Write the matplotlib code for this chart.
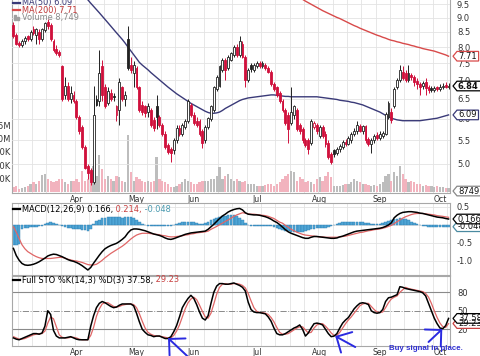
import numpy as np
import matplotlib
matplotlib.use('Agg')
import matplotlib.pyplot as plt
from matplotlib.patches import Polygon, Rectangle
from matplotlib.lines import Line2D
from matplotlib.transforms import IdentityTransform
from matplotlib.ticker import NullLocator, NullFormatter

nan = np.nan

# ---------------- data ----------------
months = ['Apr', 'May', 'Jun', 'Jul', 'Aug', 'Sep', 'Oct']
month_idx = [22, 43, 63, 85, 107, 128, 149]

open_ = [8.75, 8.40, 8.12, 8.05, 8.18, 8.35, 8.25, 8.60, 8.40, 8.50,
         8.25, 8.55, 8.85, 8.75, 8.20, 7.95, 7.85, 7.40, 6.60, 6.85,
         6.50, 6.60, 6.45, 6.05, 5.80, 5.35, 4.95, 4.88, 4.66, 6.50,
         6.45, 7.40, 6.80, 6.40, 6.65, 6.58, 6.10, 6.20, 6.80, 6.50,
         8.25, 7.45, 7.20, 7.35, 6.80, 6.35, 6.30, 6.15, 6.20, 5.97,
         6.30, 6.05, 5.85, 5.65, 5.40, 5.30, 5.28, 5.50, 5.78, 5.65,
         5.80, 5.95, 6.35, 6.10, 5.95, 5.95, 5.70, 5.50, 5.80, 6.00,
         6.20, 6.75, 6.85, 7.30, 7.60, 7.35, 7.60, 7.75, 8.00, 7.75,
         8.10, 7.70, 7.00, 7.45, 7.30, 7.40, 7.50, 7.40, 7.45, 7.35,
         7.25, 6.90, 6.80, 6.65, 6.45, 6.20, 6.10, 5.90, 6.10, 6.20,
         5.85, 5.75, 5.50, 5.50, 5.45, 5.80, 5.85, 5.60, 5.80, 5.65,
         5.45, 5.20, 5.28, 5.22, 5.30, 5.35, 5.47, 5.42, 5.50, 5.63,
         5.70, 5.83, 5.72, 5.82, 5.52, 5.42, 5.50, 5.62, 5.55, 5.60,
         5.65, 6.05, 6.15, 6.30, 6.80, 7.00, 7.25, 7.20, 7.00, 7.15,
         7.10, 6.98, 6.90, 6.85, 6.95, 6.80, 6.78, 6.72, 6.80, 6.75,
         6.80, 6.86, 6.80]
high = [8.85, 8.45, 8.20, 8.25, 8.35, 8.40, 8.55, 8.70, 8.65, 8.60,
        8.65, 8.85, 8.95, 8.80, 8.25, 8.05, 7.92, 7.45, 7.10, 6.95,
        6.85, 6.70, 6.50, 6.10, 5.85, 5.40, 5.00, 4.92, 6.85, 6.60,
        7.90, 7.60, 6.90, 6.80, 6.75, 6.65, 6.35, 7.05, 6.85, 6.70,
        8.70, 7.70, 7.55, 7.40, 6.85, 6.45, 6.35, 6.40, 6.25, 6.05,
        6.60, 6.10, 5.90, 5.70, 5.45, 5.35, 5.55, 5.85, 5.85, 5.90,
        6.00, 6.50, 6.40, 6.15, 6.05, 6.00, 5.75, 5.85, 6.05, 6.35,
        6.85, 7.15, 7.45, 7.65, 7.65, 7.75, 7.85, 8.05, 8.10, 8.35,
        8.20, 7.75, 7.35, 7.50, 7.50, 7.55, 7.55, 7.55, 7.50, 7.40,
        7.30, 6.95, 6.85, 6.70, 6.50, 6.25, 6.15, 6.80, 6.35, 6.25,
        5.90, 5.80, 5.55, 5.55, 6.00, 5.95, 5.90, 5.85, 5.85, 5.70,
        5.50, 5.25, 5.32, 5.35, 5.42, 5.50, 5.52, 5.60, 5.68, 5.78,
        5.95, 5.88, 5.85, 5.85, 5.58, 5.55, 5.65, 5.68, 5.70, 5.70,
        6.15, 6.45, 6.25, 6.80, 7.05, 7.45, 7.40, 7.30, 7.45, 7.20,
        7.15, 7.05, 6.95, 6.98, 7.05, 6.88, 6.85, 6.85, 6.85, 6.90,
        6.92, 6.95, 6.92]
low = [8.30, 8.05, 8.00, 8.00, 8.10, 8.20, 8.20, 8.40, 8.10, 8.10,
       8.20, 8.50, 8.60, 8.20, 7.85, 7.75, 7.70, 6.45, 6.50, 6.45,
       6.40, 6.40, 6.00, 5.65, 5.30, 4.90, 4.70, 4.60, 4.62, 6.30,
       6.30, 6.45, 6.25, 6.35, 6.45, 6.45, 5.95, 5.85, 6.45, 6.30,
       7.30, 7.20, 6.80, 6.75, 6.15, 6.10, 6.05, 6.05, 5.80, 5.70,
       5.75, 5.80, 5.60, 5.30, 5.20, 5.05, 5.20, 5.45, 5.60, 5.60,
       5.75, 5.90, 6.05, 5.85, 5.80, 5.60, 5.33, 5.45, 5.75, 5.95,
       6.15, 6.70, 6.80, 7.25, 7.00, 7.30, 7.55, 7.70, 7.70, 7.70,
       7.65, 6.80, 6.95, 7.25, 7.25, 7.35, 7.35, 7.35, 7.30, 7.20,
       6.85, 6.70, 6.55, 6.40, 6.15, 5.85, 5.45, 5.85, 6.00, 5.70,
       5.65, 5.45, 5.35, 5.20, 5.40, 5.75, 5.65, 5.55, 5.55, 5.35,
       5.10, 5.00, 5.15, 5.18, 5.25, 5.30, 5.38, 5.40, 5.45, 5.60,
       5.65, 5.68, 5.65, 5.45, 5.38, 5.22, 5.45, 5.50, 5.50, 5.55,
       5.62, 6.00, 5.90, 6.25, 6.75, 6.95, 7.00, 6.95, 6.95, 7.00,
       6.85, 6.75, 6.60, 6.75, 6.60, 6.65, 6.68, 6.68, 6.70, 6.70,
       6.75, 6.78, 6.76]
close = [8.35, 8.10, 8.08, 8.20, 8.30, 8.25, 8.50, 8.45, 8.60, 8.25,
         8.60, 8.80, 8.70, 8.25, 7.90, 7.80, 7.75, 6.50, 6.85, 6.50,
         6.65, 6.45, 6.05, 5.70, 5.35, 4.92, 4.82, 4.65, 6.10, 6.35,
         7.20, 6.60, 6.30, 6.70, 6.50, 6.55, 6.30, 6.95, 6.50, 6.60,
         7.35, 7.30, 7.45, 6.80, 6.20, 6.15, 6.13, 6.32, 5.85, 5.78,
         6.05, 5.85, 5.65, 5.36, 5.25, 5.22, 5.50, 5.78, 5.65, 5.85,
         5.95, 6.45, 6.10, 5.90, 5.85, 5.65, 5.45, 5.80, 6.02, 6.30,
         6.80, 7.10, 7.40, 7.60, 7.30, 7.70, 7.80, 8.00, 7.75, 8.20,
         7.70, 7.00, 7.30, 7.33, 7.45, 7.50, 7.40, 7.50, 7.35, 7.25,
         6.90, 6.75, 6.60, 6.45, 6.20, 5.90, 5.75, 6.15, 6.30, 5.75,
         5.70, 5.50, 5.40, 5.30, 5.95, 5.90, 5.70, 5.80, 5.60, 5.42,
         5.15, 5.05, 5.20, 5.32, 5.38, 5.47, 5.42, 5.55, 5.65, 5.72,
         5.85, 5.72, 5.82, 5.50, 5.42, 5.50, 5.60, 5.55, 5.65, 5.66,
         6.12, 6.38, 5.97, 6.75, 7.00, 7.30, 7.05, 7.00, 7.20, 7.08,
         6.95, 6.90, 6.80, 6.92, 6.78, 6.72, 6.73, 6.78, 6.75, 6.82,
         6.85, 6.82, 6.84]
volume_k = [80, 113, 50, 63, 80, 113, 145, 176, 145, 207,
            315, 333, 240, 207, 176, 207, 240, 240, 176, 145,
            207, 207, 240, 176, 396, 207, 240, 365, 490, 300,
            680, 428, 240, 300, 240, 207, 300, 270, 207, 176,
            1070, 365, 207, 270, 240, 207, 176, 207, 176, 207,
            650, 240, 207, 176, 145, 80, 80, 113, 145, 176,
            240, 207, 176, 145, 145, 176, 207, 207, 207, 240,
            240, 300, 460, 240, 300, 333, 240, 207, 240, 207,
            176, 207, 145, 145, 145, 113, 113, 113, 126, 145,
            145, 113, 145, 176, 240, 300, 333, 396, 365, 207,
            270, 240, 176, 207, 176, 145, 240, 270, 207, 300,
            365, 270, 113, 100, 113, 126, 145, 145, 176, 240,
            207, 176, 145, 145, 126, 113, 126, 113, 145, 176,
            300, 333, 207, 365, 300, 490, 333, 240, 176, 207,
            176, 145, 145, 113, 126, 100, 113, 80, 100, 80,
            88, 75, 63]
ma50 = [nan] * 20 + [
    10.40, 10.27, 10.15, 10.02, 9.90, 9.78, 9.67, 9.54, 9.42, 9.30,
    9.18, 9.06, 8.94, 8.82, 8.70, 8.58, 8.47, 8.36, 8.25, 8.13,
    8.00, 7.88, 7.76, 7.64, 7.52, 7.44, 7.37, 7.30, 7.22, 7.15,
    7.08, 7.01, 6.94, 6.88, 6.81, 6.75, 6.69, 6.63, 6.58, 6.53,
    6.48, 6.43, 6.38, 6.34, 6.30, 6.26, 6.22, 6.18, 6.15, 6.13,
    6.13, 6.14, 6.16, 6.20, 6.25, 6.29, 6.33, 6.37, 6.41, 6.45,
    6.48, 6.50, 6.52, 6.53, 6.54, 6.55, 6.56, 6.57, 6.58, 6.59,
    6.60, 6.60, 6.59, 6.58, 6.57, 6.56, 6.56, 6.55, 6.55, 6.55,
    6.55, 6.55, 6.55, 6.55, 6.55, 6.55, 6.55, 6.54, 6.53, 6.52,
    6.51, 6.50, 6.49, 6.48, 6.46, 6.45, 6.44, 6.43, 6.41, 6.40,
    6.38, 6.36, 6.34, 6.31, 6.28, 6.25, 6.22, 6.19, 6.16, 6.12,
    6.08, 6.04, 6.01, 5.99, 5.97, 5.96, 5.95, 5.95, 5.95, 5.95,
    5.95, 5.95, 5.95, 5.96, 5.97, 5.98, 5.99, 6.00, 6.01, 6.03,
    6.05, 6.07, 6.09]
ma200 = [nan] * 96 + [
    10.05, 9.97, 9.89, 9.82, 9.75, 9.69, 9.62, 9.56, 9.50, 9.44,
    9.38, 9.32, 9.26, 9.21, 9.16, 9.11, 9.06, 9.01, 8.97, 8.92,
    8.87, 8.82, 8.77, 8.72, 8.68, 8.63, 8.59, 8.55, 8.51, 8.47,
    8.43, 8.39, 8.36, 8.32, 8.29, 8.25, 8.22, 8.20, 8.17, 8.15,
    8.12, 8.10, 8.08, 8.05, 8.03, 8.00, 7.98, 7.95, 7.93, 7.91,
    7.89, 7.87, 7.84, 7.81, 7.78, 7.75, 7.71]
macd = [-0.65, -0.85, -0.98, -1.07, -1.11, -1.12, -1.11, -1.09, -1.06, -1.02,
        -0.97, -0.92, -0.86, -0.83, -0.81, -0.82, -0.85, -0.88, -0.92, -0.96,
        -0.99, -1.01, -1.04, -1.08, -1.13, -1.19, -1.25, -1.18, -1.06, -0.95,
        -0.84, -0.74, -0.66, -0.61, -0.57, -0.54, -0.51, -0.46, -0.40, -0.33,
        -0.22, -0.14, -0.11, -0.11, -0.12, -0.14, -0.16, -0.19, -0.22, -0.25,
        -0.27, -0.29, -0.32, -0.36, -0.39, -0.40, -0.38, -0.35, -0.32, -0.29,
        -0.26, -0.24, -0.22, -0.21, -0.20, -0.19, -0.18, -0.17, -0.12, -0.05,
        0.02, 0.10, 0.18, 0.25, 0.30, 0.36, 0.40, 0.43, 0.45, 0.46,
        0.42, 0.34, 0.30, 0.29, 0.28, 0.28, 0.27, 0.25, 0.23, 0.20,
        0.16, 0.11, 0.07, 0.01, -0.06, -0.13, -0.19, -0.23, -0.26, -0.29,
        -0.32, -0.35, -0.37, -0.37, -0.34, -0.32, -0.32, -0.33, -0.34, -0.35,
        -0.36, -0.37, -0.37, -0.36, -0.33, -0.31, -0.28, -0.25, -0.22, -0.19,
        -0.17, -0.16, -0.15, -0.14, -0.13, -0.12, -0.11, -0.10, -0.09, -0.07,
        -0.04, 0.00, 0.06, 0.20, 0.27, 0.32, 0.35, 0.36, 0.37, 0.37,
        0.36, 0.35, 0.33, 0.32, 0.30, 0.28, 0.26, 0.24, 0.22, 0.21,
        0.20, 0.18, 0.166]
signal = [-0.05, -0.20, -0.38, -0.55, -0.66, -0.74, -0.79, -0.84, -0.88, -0.91,
          -0.93, -0.93, -0.93, -0.93, -0.92, -0.91, -0.90, -0.90, -0.92, -0.95,
          -0.97, -0.99, -1.00, -1.02, -1.04, -1.07, -1.10, -1.11, -1.11, -1.09,
          -1.04, -0.98, -0.91, -0.85, -0.79, -0.74, -0.69, -0.64, -0.59, -0.53,
          -0.46, -0.39, -0.33, -0.28, -0.25, -0.23, -0.23, -0.23, -0.24, -0.25,
          -0.26, -0.27, -0.29, -0.30, -0.32, -0.33, -0.33, -0.32, -0.31, -0.30,
          -0.28, -0.27, -0.25, -0.24, -0.22, -0.21, -0.20, -0.19, -0.17, -0.12,
          -0.08, -0.04, 0.01, 0.05, 0.10, 0.14, 0.19, 0.24, 0.28, 0.31,
          0.34, 0.33, 0.31, 0.30, 0.30, 0.29, 0.28, 0.27, 0.26, 0.24,
          0.21, 0.18, 0.13, 0.08, 0.05, -0.01, -0.06, -0.12, -0.16, -0.20,
          -0.23, -0.26, -0.28, -0.29, -0.30, -0.31, -0.32, -0.33, -0.33, -0.34,
          -0.34, -0.34, -0.34, -0.34, -0.33, -0.32, -0.31, -0.29, -0.27, -0.25,
          -0.23, -0.21, -0.20, -0.18, -0.16, -0.15, -0.13, -0.12, -0.11, -0.09,
          -0.07, -0.04, -0.01, 0.04, 0.09, 0.14, 0.19, 0.23, 0.26, 0.29,
          0.31, 0.32, 0.32, 0.32, 0.31, 0.30, 0.29, 0.28, 0.26, 0.25,
          0.24, 0.225, 0.214]
hist = [-0.55, -0.55, -0.52, -0.12, -0.08, -0.07, -0.06, -0.06, -0.05, -0.04,
        -0.02, 0.02, 0.05, 0.07, 0.06, 0.04, 0.01, -0.03, -0.06, -0.08,
        -0.09, -0.10, -0.11, -0.12, -0.13, -0.15, -0.17, -0.10, 0.02, 0.10,
        0.15, 0.19, 0.20, 0.21, 0.22, 0.22, 0.22, 0.21, 0.20, 0.21,
        0.23, 0.22, 0.19, 0.14, 0.08, 0.03, -0.01, -0.03, -0.04, -0.04,
        -0.04, -0.03, -0.03, -0.03, -0.04, -0.03, 0.00, 0.03, 0.05, 0.07,
        0.08, 0.09, 0.09, 0.08, 0.06, 0.04, 0.03, 0.05, 0.09, 0.13,
        0.17, 0.20, 0.22, 0.24, 0.26, 0.27, 0.28, 0.27, 0.24, 0.20,
        0.14, 0.06, 0.00, -0.02, -0.03, -0.03, -0.03, -0.03, -0.03, -0.04,
        -0.04, -0.05, -0.07, -0.10, -0.13, -0.16, -0.18, -0.19, -0.20, -0.20,
        -0.20, -0.19, -0.18, -0.15, -0.12, -0.10, -0.09, -0.09, -0.09, -0.08,
        -0.06, -0.03, 0.00, 0.03, 0.05, 0.07, 0.08, 0.09, 0.09, 0.09,
        0.09, 0.08, 0.07, 0.06, 0.05, 0.04, 0.03, 0.03, 0.04, 0.06,
        0.09, 0.12, 0.15, 0.17, 0.18, 0.19, 0.18, 0.16, 0.13, 0.09,
        0.05, 0.02, -0.01, -0.03, -0.04, -0.05, -0.05, -0.05, -0.05, -0.05,
        -0.05, -0.05, -0.048]
sto_k = [6, 4, 3, 5, 7, 9, 11, 13, 13, 12,
         14, 25, 50, 44, 18, 9, 6, 6, 6, 7,
         8, 6, 4, 3, 3, 3, 3, 25, 42, 55,
         62, 65, 63, 60, 57, 55, 56, 59, 61, 61,
         61, 61, 58, 46, 32, 20, 15, 11, 10, 8,
         9, 9, 7, 5, 5, 8, 16, 26, 40, 55,
         63, 70, 75, 70, 60, 48, 38, 35, 42, 62,
         80, 90, 94, 94, 93, 93, 94, 95, 93, 91,
         88, 82, 64, 52, 48, 47, 47, 46, 45, 40,
         33, 22, 13, 11, 11, 13, 16, 19, 22, 24,
         27, 20, 9, 14, 22, 29, 30, 29, 27, 20,
         13, 8, 9, 13, 22, 30, 35, 39, 46, 53,
         58, 62, 63, 62, 60, 50, 47, 46, 47, 52,
         65, 71, 72, 74, 76, 89, 88, 86, 85, 84,
         83, 82, 81, 79, 74, 62, 50, 38, 29, 22,
         21, 26, 37.58]
sto_d = [8, 6, 4, 4, 5, 7, 9, 11, 12, 13,
         13, 17, 30, 40, 37, 24, 11, 7, 6, 6,
         7, 7, 6, 4, 3, 3, 3, 10, 23, 41,
         53, 61, 63, 63, 60, 57, 56, 57, 59, 60,
         61, 61, 60, 55, 45, 33, 22, 15, 12, 10,
         9, 9, 8, 7, 6, 6, 10, 17, 27, 40,
         53, 63, 69, 72, 68, 59, 49, 40, 38, 46,
         61, 77, 88, 93, 94, 93, 93, 94, 94, 93,
         91, 87, 78, 66, 55, 49, 47, 47, 46, 44,
         39, 32, 23, 15, 12, 12, 13, 16, 19, 22,
         24, 24, 19, 14, 15, 22, 27, 29, 29, 25,
         20, 14, 10, 10, 15, 22, 29, 35, 40, 46,
         52, 58, 61, 62, 62, 57, 52, 48, 47, 48,
         55, 63, 69, 72, 74, 80, 84, 88, 86, 85,
         84, 83, 82, 81, 78, 72, 62, 50, 39, 30,
         24, 23, 29.23]

price_ticks = [5.0, 5.5, 6.0, 6.5, 7.0, 7.5, 8.0, 8.5, 9.0, 9.5]
vol_ticks = [250, 500, 750, 1000, 1250]
vol_tick_labels = ['250K', '500K', '750K', '1.0M', '1.25M']
macd_ticks = [0.5, 0.0, -0.5, -1.0]
sto_levels = [80, 50, 20]
arrows = [((54.0, 5.8), (60.7, -23.3)),
          ((112.4, 9.0), (119.4, -8.8)),
          ((149.8, 20.4), (145.0, -0.6))]

# ---------------- style ----------------
RED = '#D0103C'
BLK = '#222222'
PINK = '#F2B3BE'
GREY = '#BDBDBD'
NAVY = '#3A3A78'
MA200C = '#D84A4A'
HBLUE = '#4FA6D6'
HEDGE = '#2E7DB0'
SIGRED = '#E06666'
GRID = '#E3E3E3'
SPINE = '#A8A8A8'
ARROW = '#2A2AE0'
FS = 5.6
LFS = 5.95

W, H = 480, 356
fig = plt.figure(figsize=(W / 100, H / 100), dpi=100)
fig.patch.set_facecolor('white')
plt.rcParams['font.family'] = ['DejaVu Sans']


def rect(l, t, r, b):
    return [l / W, 1 - b / H, (r - l) / W, (b - t) / H]


N = len(close)
x = np.arange(N)
o = np.array(open_); c = np.array(close); hi = np.array(high); lo = np.array(low)
prev = np.r_[o[0], c[:-1]]
down = c < prev
col = np.where(down, RED, BLK)
filled = c < o
face = np.where(filled, col, 'white').astype(object)
face[-1] = '#F5F03C'
weeks = np.arange(1.5, N, 5)

axv = fig.add_axes(rect(12, -10, 450, 193))
axp = fig.add_axes(rect(12, -10, 450, 193), sharex=axv)
axm = fig.add_axes(rect(12, 203, 450, 275))
axs = fig.add_axes(rect(12, 276, 450, 346))
axp.set_facecolor('none')

for ax in (axv, axm, axs):
    for g in weeks:
        ax.axvline(g, color=GRID, lw=0.6, zorder=0)
    for s in ax.spines.values():
        s.set_color(SPINE); s.set_linewidth(0.8)
    ax.set_xlim(-0.5, N - 0.5)
for s in axp.spines.values():
    s.set_visible(False)

# volume
axv.bar(x, volume_k, width=0.8, color=np.where(down, PINK, GREY), zorder=2)
axv.set_ylim(-28, 3802)
axv.set_yticks(vol_ticks)
axv.set_yticklabels(vol_tick_labels)
axv.tick_params(axis='y', length=0, pad=1, labelsize=6, labelcolor='#333333')
axv.tick_params(axis='x', length=0, labelbottom=False)

# price
axp.set_yscale('log')
axp.set_ylim(4.45, 10.06)
for t in price_ticks:
    axp.axhline(t, color=GRID, lw=0.6, zorder=0.5)
axp.plot(x, ma200, color=MA200C, lw=1.0, zorder=1.5)
axp.plot(x, ma50, color=NAVY, lw=1.0, zorder=1.5)
axp.vlines(x, lo, hi, colors=col, lw=0.7, zorder=2)
axp.bar(x, np.maximum(np.abs(c - o), 0.01), bottom=np.minimum(o, c), width=0.66,
        color=list(face), edgecolor=list(col), linewidth=0.6, zorder=3)
axp.yaxis.tick_right()
axp.set_yticks(price_ticks)
axp.set_yticklabels(['%.1f' % t for t in price_ticks])
axp.yaxis.set_minor_locator(NullLocator())
axp.yaxis.set_minor_formatter(NullFormatter())
axp.tick_params(axis='y', length=0, pad=5, labelsize=6, labelcolor='#333333')
axp.set_xticks(month_idx)
axp.set_xticklabels(months)
axp.tick_params(axis='x', length=0, pad=1.2, labelsize=FS, labelcolor='#333333')
axp.set_xlim(-0.5, N - 0.5)

# MACD
axm.set_ylim(-1.389, 0.611)
for t in macd_ticks:
    axm.axhline(t, color=GRID, lw=0.6, zorder=0)
axm.bar(x, hist, width=0.9, color=HBLUE, edgecolor=HEDGE, linewidth=0.3, zorder=1)
axm.plot(x, signal, color=SIGRED, lw=0.9, zorder=2)
axm.plot(x, macd, color='black', lw=1.1, zorder=3)
axm.yaxis.tick_right()
axm.set_yticks(macd_ticks)
axm.set_yticklabels(['%.1f' % t for t in macd_ticks])
axm.tick_params(axis='y', length=0, pad=5, labelsize=6, labelcolor='#333333')
axm.tick_params(axis='x', length=0, labelbottom=False)

# STO
axs.set_ylim(-7.1, 106.3)
axs.axhline(sto_levels[0], color='#8A8A8A', lw=0.8, zorder=0.5)
axs.axhline(sto_levels[2], color='#8A8A8A', lw=0.8, zorder=0.5)
axs.axhline(sto_levels[1], color='#8A8A8A', lw=0.7, ls='-.', zorder=0.5)
axs.plot(x, sto_d, color=SIGRED, lw=0.9, zorder=2)
axs.plot(x, sto_k, color='black', lw=1.1, zorder=3)
axs.yaxis.tick_right()
axs.set_yticks(sto_levels)
axs.set_yticklabels([str(v) for v in sto_levels])
axs.tick_params(axis='y', length=0, pad=5, labelsize=6, labelcolor='#333333')
axs.set_xticks(month_idx)
axs.set_xticklabels(months)
axs.tick_params(axis='x', length=0, pad=1.5, labelsize=FS, labelcolor='#333333')

for (tip, tail) in arrows:
    axs.annotate('', xy=tip, xytext=tail, annotation_clip=False,
                 arrowprops=dict(arrowstyle='->,head_length=0.6,head_width=0.6',
                                 color=ARROW, lw=1.4, mutation_scale=14,
                                 shrinkA=0, shrinkB=0), zorder=6)

renderer = fig.canvas.get_renderer()


def legend_line(y, parts, mark=None, markcol='black'):
    yy = 1 - y / H
    if mark == 'line':
        fig.add_artist(Line2D([13 / W, 19.5 / W], [yy, yy], color=markcol, lw=1.6))
    elif mark == 'bar':
        for bx, bh in ((13.5, 5), (16.5, 3)):
            fig.add_artist(Rectangle((bx / W, yy - 2.5 / H), 2 / W, bh / H, color=markcol))
    xx = 22
    for s, cc in parts:
        t = fig.text(xx / W, yy, s, color=cc, fontsize=LFS, va='center', ha='left')
        xx += t.get_window_extent(renderer).width


legend_line(2.5, [('MA(50) 6.09', NAVY)], 'line', NAVY)
legend_line(10, [('MA(200) 7.71', '#C03838')], 'line', MA200C)
legend_line(17.5, [('Volume 8,749', '#8A8A8A')], 'bar', '#A0A0A0')
legend_line(209, [('MACD(12,26,9) 0.166,', 'black'), (' 0.214,', '#C84040'),
                  (' -0.048', '#4A9AB0')], 'line', 'black')
legend_line(280, [('Full STO %K(14,3) %D(3) 37.58,', 'black'), (' 29.23', '#C84040')],
            'line', 'black')


def tag(ax, val, s, ec, weight='normal'):
    y = ax.transData.transform((0, val))[1]
    x0 = 453
    t = fig.text(x0 + 5, y, s, transform=IdentityTransform(), fontsize=6,
                 color='#111111', va='center', ha='left', weight=weight, zorder=12)
    w = t.get_window_extent(renderer).width
    poly = Polygon([(x0, y), (x0 + 4, y + 4.8), (x0 + 7 + w, y + 4.8),
                    (x0 + 7 + w, y - 4.8), (x0 + 4, y - 4.8)], closed=True,
                   transform=IdentityTransform(), facecolor='white', edgecolor=ec,
                   lw=0.9, zorder=11)
    fig.add_artist(poly)


tag(axp, ma200[-1], '7.71', MA200C)
tag(axp, ma50[-1], '6.09', NAVY)
tag(axp, close[-1], '6.84', 'black', 'bold')
tag(axv, 8.749, '8749.0', '#888888')
tag(axm, hist[-1], '-0.048', '#4A8AA0')
tag(axm, macd[-1], '0.166', 'black')
tag(axs, sto_d[-1], '29.23', '#C84040')
tag(axs, sto_k[-1], '37.58', 'black')

fig.text(389 / W, 1 - 349 / H, 'Buy signal in place.', color='#2F2FD0', fontsize=5.7,
         weight='bold', family=['Liberation Sans', 'DejaVu Sans'], va='center', ha='left',
         zorder=12)

fig.savefig('out.png', dpi=100)
